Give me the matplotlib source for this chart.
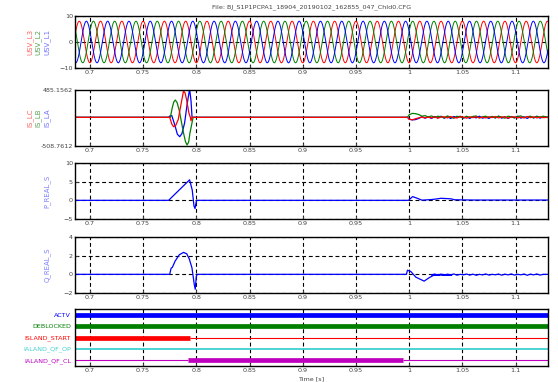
"""
Recorder plot: bus voltages, currents, P/Q and digital states around an
islanding event.  Saves out.png (558x382).
"""

import numpy as np
import matplotlib.pyplot as plt

TITLE = "File: BJ_S1P1PCPA1_18904_20190102_162855_047_Chld0.CFG"
X_LIMITS = (0.686, 1.1305)
X_TICKS = [0.7, 0.75, 0.8, 0.85, 0.9, 0.95, 1.0, 1.05, 1.1]
X_TICK_LABELS = ["0.7", "0.75", "0.8", "0.85", "0.9", "0.95", "1", "1.05", "1.1"]

# bus voltages: steady 50 Hz, peak value and time of first peak per phase
USV_NAMES = ["USV_L3", "USV_L2", "USV_L1"]
USV_PEAK = [8.0, 8.0, 8.0]
USV_FIRST_PEAK_T = [0.6900, 0.7033, 0.6967]
USV_FREQ = 50.0

# currents (keypoints): burst before 0.8, ripple after 1.0
IS_LA_T = [0.686, 0.7740, 0.7755, 0.7770, 0.7800, 0.7822, 0.7844, 0.7865, 0.7890,
           0.7915, 0.7937, 0.7950, 0.7960, 0.800,
           0.9985, 1.0000, 1.0030, 1.0060, 1.0090, 1.0120, 1.0150, 1.0180]
IS_LA_V = [0, 0, 30, 30, -150, -300, -344, -290, -100,
           250, 500, 300, 0, 0,
           0, -30, -45, -40, -20, 10, -15, 10]
IS_LB_T = [0.686, 0.7756, 0.7775, 0.7790, 0.7803, 0.7820, 0.7840, 0.7860, 0.7880,
           0.7898, 0.7913, 0.7928, 0.7940, 0.7970, 0.800,
           0.9985, 1.0000, 1.0030, 1.0060, 1.0090, 1.0120, 1.0150, 1.0180]
IS_LB_V = [0, 0, 180, 280, 307, 260, 120, -80, -280,
           -430, -490, -440, -280, 0, 0,
           0, 45, 70, 65, 50, 20, 30, 5]
IS_LC_T = [0.686, 0.7750, 0.7770, 0.7787, 0.7805, 0.7830, 0.7855, 0.7880, 0.7895,
           0.7910, 0.7930, 0.7944, 0.7950, 0.7960, 0.800,
           0.9985, 1.0000, 1.0030, 1.0060, 1.0090, 1.0120, 1.0150, 1.0180]
IS_LC_V = [0, 0, -120, -167, -150, -40, 220, 470, 430,
           300, 80, 0, -60, 0, 0,
           0, -35, -45, -25, -10, 5, -10, 5]

# residual ripple after the reclosing, common time base
TAIL_T = [1.021, 1.024, 1.027, 1.030, 1.033, 1.036, 1.039, 1.042, 1.045, 1.048,
          1.051, 1.054, 1.057, 1.060, 1.063, 1.066, 1.069, 1.072, 1.075, 1.078,
          1.081, 1.084, 1.087, 1.090, 1.093, 1.096, 1.099, 1.102, 1.105, 1.108,
          1.111, 1.114, 1.117, 1.120, 1.123, 1.126, 1.1305]
IS_LA_TAIL = [-20, 15, -10, 20, -15, 10, -20, 15, -5, 20, -15, 10, -20, 15, -10, 20,
              -15, 5, -20, 15, -10, 20, -15, 10, -20, 15, -10, 20, -15, 10, -20, 15,
              -10, 20, -15, 10, 0]
IS_LB_TAIL = [25, -5, 20, 10, -10, 25, 0, -15, 20, 5, -10, 20, -5, 15, 25, -10, 10,
              20, -5, 15, -10, 20, 5, -15, 20, 10, -10, 15, 25, -5, 10, 20, -10, 15,
              5, 20, 0]
IS_LC_TAIL = [-10, 10, -15, 5, 10, -10, 15, -5, -10, 10, 5, -15, 10, -5, 10, -10, 5,
              -10, 10, -5, 15, -10, 5, 10, -15, 5, 10, -10, 5, -10, 15, -5, 10, -10,
              5, -5, 0]
IS_NAMES = ["IS_LC", "IS_LB", "IS_LA"]
IS_YLIM = (-508.7612, 485.1562)

# active / reactive power
P_T = [0.686, 0.7740, 0.7937, 0.7962, 0.7978, 0.7988, 0.8000, 0.8008,
       0.9994, 1.0033, 1.0073, 1.0120, 1.0192, 1.0239, 1.0300, 1.0395, 1.0426,
       1.0600, 1.1305]
P_V = [0, 0, 5.5, 2.7, -1.5, -2.2, -0.3, 0,
       0, 1.0, 0.58, 0.05, 0.17, 0.3, 0.55, 0.4, 0.15,
       0.08, 0.08]
Q_T = [0.686, 0.7750, 0.7763, 0.7775, 0.7800, 0.7840, 0.7880, 0.7910, 0.7934,
       0.7959, 0.7981, 0.7990, 0.8000, 0.8010,
       0.9975, 0.9984, 1.0016, 1.0063, 1.0141, 1.0188, 1.0235, 1.0300, 1.0400]
Q_V = [0, 0, 0.65, 0.75, 1.4, 2.1, 2.35, 2.2, 1.65,
       0.7, -1.1, -1.6, -0.2, 0,
       0, 0.44, 0.3, -0.3, -0.73, -0.36, -0.07, 0.0, -0.1]
Q_TAIL = [-0.05, 0.03, -0.08, 0.0, -0.1, 0.02, -0.06, 0.04, -0.09, 0.0, -0.05, 0.03,
          -0.08, 0.02, -0.1, 0.0, -0.06, 0.04, -0.08, 0.0, -0.05, 0.03, -0.09, 0.02,
          -0.06, 0.04, -0.08, 0.0, -0.05, 0.03, -0.1, 0.02, -0.06, 0.04, -0.08, 0.0,
          0.0]

# digital channels: switch times and state after each switch
DIG_NAMES = ["ACTV", "DEBLOCKED", "ISLAND_START", "IALAND_QF_OP", "IALAND_QF_CL"]
DIG_SWITCH_T = [[], [], [0.794], [], [0.7925, 0.9944]]
DIG_STATES = [[1], [1], [1, 0], [0], [0, 1, 0]]

DIG_COLORS = ["#0000ff", "#007f00", "#ff0000", "#40d0d0", "#bf00bf"]
PHASE_COLORS = ["#ff0000", "#008000", "#0000ff"]
LABEL_COLORS = ["#ff6060", "#50a050", "#7070ff"]

W, H = 558, 382
# panel (top, bottom) in pixels
PANELS = [(16, 68), (90, 146), (163, 219), (237, 293), (309, 366)]
LEFT, RIGHT = 75, 548

GRID_KW = dict(color="black", linestyle=(0, (3.5, 2.5)), linewidth=0.8)
TICK_FS = 4.6


def make_axes(fig):
    axes = []
    for top, bottom in PANELS:
        ax = fig.add_axes([LEFT / W, 1 - bottom / H, (RIGHT - LEFT) / W, (bottom - top) / H])
        ax.set_xlim(*X_LIMITS)
        ax.set_xticks(X_TICKS)
        ax.set_xticklabels(X_TICK_LABELS)
        ax.tick_params(labelsize=TICK_FS, colors="#444444", direction="in", length=2, pad=1.5)
        for s in ax.spines.values():
            s.set_linewidth(1.0)
        axes.append(ax)
    return axes


def side_labels(fig, panel, names, colors, xs):
    top, bottom = PANELS[panel]
    yc = 1 - (top + bottom) / 2 / H
    for name, col, x in zip(names, colors, xs):
        fig.text(x / W, yc, name, rotation=90, color=col, fontsize=5,
                 ha="center", va="center")


def main():
    fig = plt.figure(figsize=(W / 100, H / 100), dpi=100)
    ax1, ax2, ax3, ax4, ax5 = make_axes(fig)

    fig.text(0.5 * (LEFT + RIGHT) / W, 1 - 7 / H, TITLE, ha="center", va="center",
             fontsize=4.6, color="#444444")

    # voltages
    t = np.linspace(X_LIMITS[0], X_LIMITS[1], 4000)
    for peak, t0, col in zip(USV_PEAK, USV_FIRST_PEAK_T, PHASE_COLORS):
        ax1.plot(t, peak * np.cos(2 * np.pi * USV_FREQ * (t - t0)), color=col, lw=0.7)
    ax1.set_ylim(-10, 10)
    ax1.set_yticks([-10, 0, 10])
    ax1.grid(True, **GRID_KW)
    side_labels(fig, 0, USV_NAMES, LABEL_COLORS, [30, 38, 47])

    # currents, red drawn last so it sits on top
    for tt, vv, tail, col in [(IS_LA_T, IS_LA_V, IS_LA_TAIL, PHASE_COLORS[2]),
                              (IS_LB_T, IS_LB_V, IS_LB_TAIL, PHASE_COLORS[1]),
                              (IS_LC_T, IS_LC_V, IS_LC_TAIL, PHASE_COLORS[0])]:
        ax2.plot(tt + TAIL_T, vv + tail, color=col, lw=0.9)
    ax2.set_ylim(*IS_YLIM)
    ax2.set_yticks(list(IS_YLIM))
    ax2.set_yticklabels(["-508.7612", "485.1562"])
    ax2.grid(True, axis="x", **GRID_KW)
    side_labels(fig, 1, IS_NAMES, LABEL_COLORS, [30, 38, 47])

    # P
    ax3.plot(P_T, P_V, color="#0000ff", lw=0.9)
    ax3.set_ylim(-5, 10)
    ax3.set_yticks([-5, 0, 5, 10])
    ax3.grid(True, **GRID_KW)
    side_labels(fig, 2, ["P_REAL_S"], ["#8080ff"], [47])

    # Q
    ax4.plot(Q_T + TAIL_T, Q_V + Q_TAIL, color="#0000ff", lw=0.9)
    ax4.set_ylim(-2, 4)
    ax4.set_yticks([-2, 0, 2, 4])
    ax4.grid(True, **GRID_KW)
    side_labels(fig, 3, ["Q_REAL_S"], ["#8080ff"], [47])

    # digital channels, thick = 1, thin = 0
    n = len(DIG_NAMES)
    for i, (name, sw, st, col) in enumerate(zip(DIG_NAMES, DIG_SWITCH_T, DIG_STATES, DIG_COLORS)):
        row = n - i
        edges = [X_LIMITS[0]] + sw + [X_LIMITS[1]]
        for a, b, s in zip(edges[:-1], edges[1:], st):
            thin = 1.3 if name == "IALAND_QF_OP" else 0.8
            ax5.plot([a, b], [row, row], color=col, lw=3.4 if s else thin,
                     solid_capstyle="butt")
    ax5.set_ylim(0.47, n + 0.53)
    ax5.set_yticks(range(n, 0, -1))
    ax5.set_yticklabels(DIG_NAMES)
    for lbl, col in zip(ax5.get_yticklabels(), DIG_COLORS):
        lbl.set_color(col)
    ax5.tick_params(axis="y", length=0, pad=3)
    ax5.grid(True, axis="x", **GRID_KW)
    ax5.set_xlabel("Time [s]", fontsize=4.6, color="#444444", labelpad=2)

    fig.savefig("out.png", dpi=100)
    plt.close(fig)


if __name__ == "__main__":
    main()
